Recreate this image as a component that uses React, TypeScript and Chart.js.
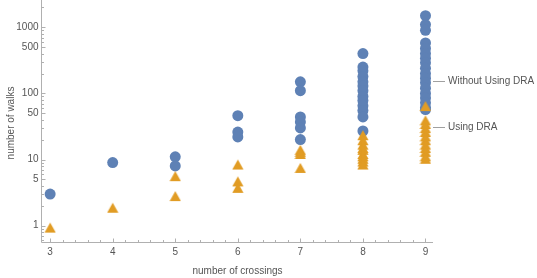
import React, { useEffect, useRef } from "react";
import { Chart, registerables } from "chart.js";

Chart.register(...registerables);

// ---- data ----
const crossings = [3, 4, 5, 6, 7, 8, 9];
const withoutDRA: number[][] = [
  [3],
  [9],
  [11, 8],
  [46, 26, 22],
  [150, 110, 44, 37, 30, 20],
  [400, 250, 220, 180, 150, 130, 110, 90, 78, 65, 55, 44, 27],
  [1500, 1100, 900, 580, 480, 400, 340, 290, 240, 200, 170, 145, 120, 100, 85, 72, 61, 57],
];
const usingDRA: number[][] = [
  [1],
  [2],
  [6, 3],
  [9, 5, 4],
  [15, 14, 13, 8],
  [25, 21, 18, 16, 15, 13, 12, 11, 10, 9],
  [69, 42, 37, 32, 28, 24, 21, 18, 16, 14, 12, 11],
];
const xTickLabels = [3, 4, 5, 6, 7, 8, 9];
const yTickLabels = [1, 5, 10, 50, 100, 500, 1000];
const seriesNames = ["Without Using DRA", "Using DRA"];
const seriesLabelAnchors = [154, 31];
const xTitle = "number of crossings";
const yTitle = "number of walks";

const BLUE = "#5E81B5";
const ORANGE = "#E19C24";
const AXIS = "#b0b0b0";
const TEXT = "#555555";
const FONT = '10px "Liberation Sans", Arial, sans-serif';

function makeTriangle(): HTMLCanvasElement {
  const c = document.createElement("canvas");
  c.width = 12;
  c.height = 16;
  const g = c.getContext("2d")!;
  g.fillStyle = ORANGE;
  g.beginPath();
  g.moveTo(6, 5);
  g.lineTo(11.6, 15);
  g.lineTo(0.4, 15);
  g.closePath();
  g.fill();
  return c;
}

const axesPlugin = {
  id: "mmaAxes",
  afterDraw(chart: any) {
    const { ctx, chartArea } = chart;
    const xs = chart.scales.x;
    const ys = chart.scales.y;
    const left = Math.round(chartArea.left) - 0.5;
    const bottom = Math.round(chartArea.bottom) + 0.5;
    ctx.save();
    ctx.strokeStyle = AXIS;
    ctx.lineWidth = 1;
    ctx.beginPath();
    ctx.moveTo(left, chartArea.top);
    ctx.lineTo(left, bottom);
    ctx.lineTo(chartArea.right, bottom);
    ctx.stroke();

    // x ticks
    ctx.beginPath();
    for (let v = Math.ceil(xs.min * 5) / 5; v <= xs.max + 1e-9; v += 0.2) {
      const r = Math.round(v * 5) / 5;
      const isMajor = Math.abs(r - Math.round(r)) < 1e-6;
      const px = Math.round(xs.getPixelForValue(r)) + 0.5;
      ctx.moveTo(px, bottom);
      ctx.lineTo(px, bottom - (isMajor ? 4 : 2.5));
    }
    // y ticks
    const decades = [0.1, 1, 10, 100, 1000];
    for (const d of decades) {
      for (let m = 1; m <= 9; m++) {
        const v = d * m;
        if (v < ys.min || v > ys.max) continue;
        const isMajor = m === 1 || m === 5;
        const py = Math.round(ys.getPixelForValue(v)) + 0.5;
        ctx.moveTo(left, py);
        ctx.lineTo(left + (isMajor ? 4 : 2.5), py);
      }
    }
    ctx.stroke();

    ctx.fillStyle = TEXT;
    ctx.font = FONT;
    ctx.textAlign = "center";
    ctx.textBaseline = "middle";
    for (const t of xTickLabels) {
      ctx.fillText(String(t), xs.getPixelForValue(t), bottom + 10);
    }
    ctx.textAlign = "right";
    for (const t of yTickLabels) {
      ctx.fillText(String(t), left - 3, ys.getPixelForValue(t));
    }
    // axis titles
    ctx.textAlign = "center";
    ctx.fillText(xTitle, (chartArea.left + chartArea.right) / 2, bottom + 29);
    ctx.save();
    ctx.translate(11, (chartArea.top + chartArea.bottom) / 2 + 2);
    ctx.rotate(-Math.PI / 2);
    ctx.fillText(yTitle, 0, 0);
    ctx.restore();

    // series labels
    ctx.textAlign = "left";
    ctx.beginPath();
    seriesNames.forEach((name, i) => {
      const py = Math.round(ys.getPixelForValue(seriesLabelAnchors[i])) + 0.5;
      ctx.moveTo(chartArea.right, py);
      ctx.lineTo(chartArea.right + 12, py);
      ctx.fillText(name, chartArea.right + 15, py);
    });
    ctx.strokeStyle = "#a0a0a0";
    ctx.stroke();
    ctx.restore();
  },
};

export default function App() {
  const ref = useRef<HTMLCanvasElement>(null);
  useEffect(() => {
    if (!ref.current) return;
    const tri = makeTriangle();
    const toPoints = (arr: number[][]) =>
      crossings.flatMap((c, i) => arr[i].map((v) => ({ x: c, y: v })));
    const chart = new Chart(ref.current, {
      type: "scatter",
      data: {
        datasets: [
          {
            label: seriesNames[0],
            data: toPoints(withoutDRA),
            pointStyle: "circle",
            pointRadius: 5.5,
            pointBackgroundColor: BLUE,
            pointBorderWidth: 0,
            order: 2,
          },
          {
            label: seriesNames[1],
            data: toPoints(usingDRA),
            pointStyle: tri as any,
            pointRadius: 6,
            order: 1,
          },
        ],
      },
      options: {
        responsive: false,
        animation: false,
        devicePixelRatio: 1,
        clip: false,
        layout: { autoPadding: false, padding: { left: 42, right: 104, top: 0, bottom: 36 } },
        plugins: { legend: { display: false }, tooltip: { enabled: false } },
        scales: {
          x: { type: "linear", min: 2.87, max: 9.12, bounds: "data", display: false },
          y: { type: "logarithmic", min: 0.565, max: 2590, bounds: "data", display: false },
        },
        elements: { point: { hoverRadius: 5.5 } },
      } as any,
      plugins: [axesPlugin],
    });
    return () => chart.destroy();
  }, []);
  return (
    <div style={{ position: "fixed", left: 0, top: 0, width: 537, height: 278, background: "#fff" }}>
      <canvas ref={ref} width={537} height={278} />
    </div>
  );
}
